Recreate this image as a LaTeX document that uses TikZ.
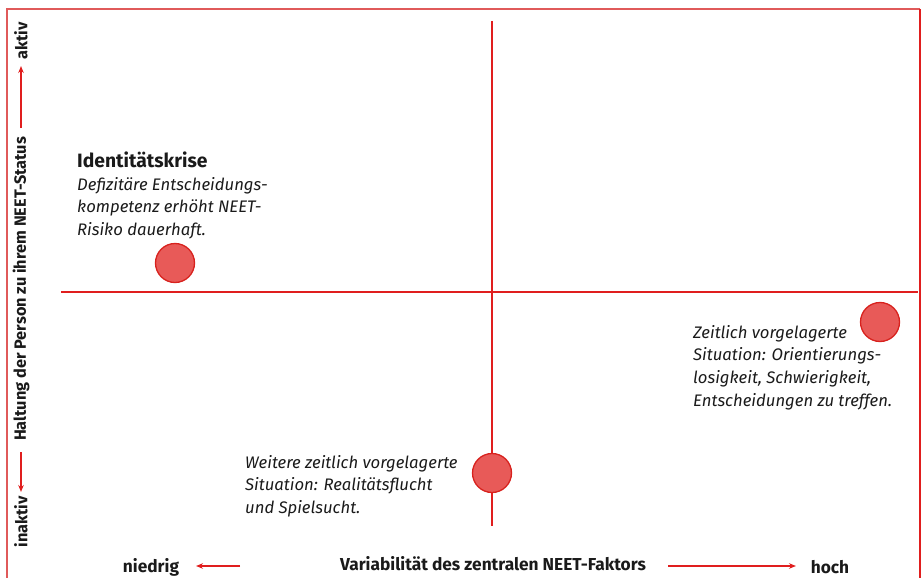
\documentclass[tikz,border=0pt]{standalone}
\usepackage{fontspec}
\setmainfont{Fira Sans}
\usetikzlibrary{arrows.meta}
\definecolor{frameL}{HTML}{E05A5A}
\definecolor{axred}{HTML}{E01E1E}
\definecolor{dotfill}{HTML}{E85A58}
\definecolor{dotdraw}{HTML}{D8221E}
\definecolor{txt}{HTML}{1A1A1A}
\tikzset{
  axisline/.style={draw=axred, line width=2pt},
  dot/.style={circle, fill=dotfill, draw=dotdraw, line width=1.3pt, minimum size=39pt, inner sep=0pt},
  desc/.style={anchor=north west, align=left, inner sep=0pt, font=\fontsize{16.7}{22.6}\selectfont\itshape, text=txt},
  axlabel/.style={inner sep=0pt, font=\fontsize{17.3}{19}\selectfont\bfseries, text=txt},
  vlabel/.style={inner sep=0pt, rotate=90, font=\fontsize{16.3}{18}\selectfont\bfseries, text=txt},
  axarrow/.style={draw=axred, line width=1.2pt, -{Stealth[length=7pt,width=5.5pt]}}
}
\begin{document}
\begin{tikzpicture}[x=1pt,y=-1pt]
\useasboundingbox (0,0) rectangle (921,578);
% frame
\draw[draw=frameL, line width=1.6pt] (7,580) -- (7,9) -- (920,9);
\draw[draw=axred, line width=1.6pt] (920,9) -- (920,580);
% axes
\coordinate (vt) at (492,21);
\coordinate (vb) at (492,526);
\coordinate (hl) at (61,292);
\coordinate (hr) at (918,292);
\draw[axisline] (vt) -- (vb);
\draw[axisline] (hl) -- (hr);
% dots
\node[dot] (d1) at (175,263) {};
\node[dot] (d2) at (880,322) {};
\node[dot] (d3) at (492,473) {};
% texts
\node[anchor=base west, inner sep=0pt, font=\fontsize{19.3}{22}\selectfont\bfseries, text=txt] (title) at (77,167) {Identitätskrise};
\node[desc] (t1) at (77,177) {Defizitäre Entscheidungs-\\kompetenz erhöht NEET-\\Risiko dauerhaft.};
\node[desc] (t2) at (693,325) {Zeitlich vorgelagerte\\Situation: Orientierungs-\\losigkeit, Schwierigkeit,\\Entscheidungen zu treffen.};
\node[desc] (t3) at (245,455) {Weitere zeitlich vorgelagerte\\Situation: Realitätsflucht\\und Spielsucht.};
% horizontal axis labels
\node[axlabel] (lo) at (151,567) {niedrig};
\node[axlabel] (hx) at (493,564) {Variabilität des zentralen NEET-Faktors};
\node[axlabel] (hi) at (830,567) {hoch};
\coordinate (la1) at (240,566);
\coordinate (la2) at (196,566);
\coordinate (ra1) at (668,566);
\coordinate (ra2) at (796,566);
\draw[axarrow] (la1) -- (la2);
\draw[axarrow] (ra1) -- (ra2);
% vertical axis labels
\node[vlabel] (ak) at (21,41) {aktiv};
\node[vlabel] (vx) at (21,289) {Haltung der Person zu ihrem NEET-Status};
\node[vlabel] (ia) at (21,522) {inaktiv};
\coordinate (ua1) at (21,128);
\coordinate (ua2) at (21,66);
\coordinate (da1) at (21,452);
\coordinate (da2) at (21,492);
\draw[axarrow] (ua1) -- (ua2);
\draw[axarrow] (da1) -- (da2);
\end{tikzpicture}
\end{document}
